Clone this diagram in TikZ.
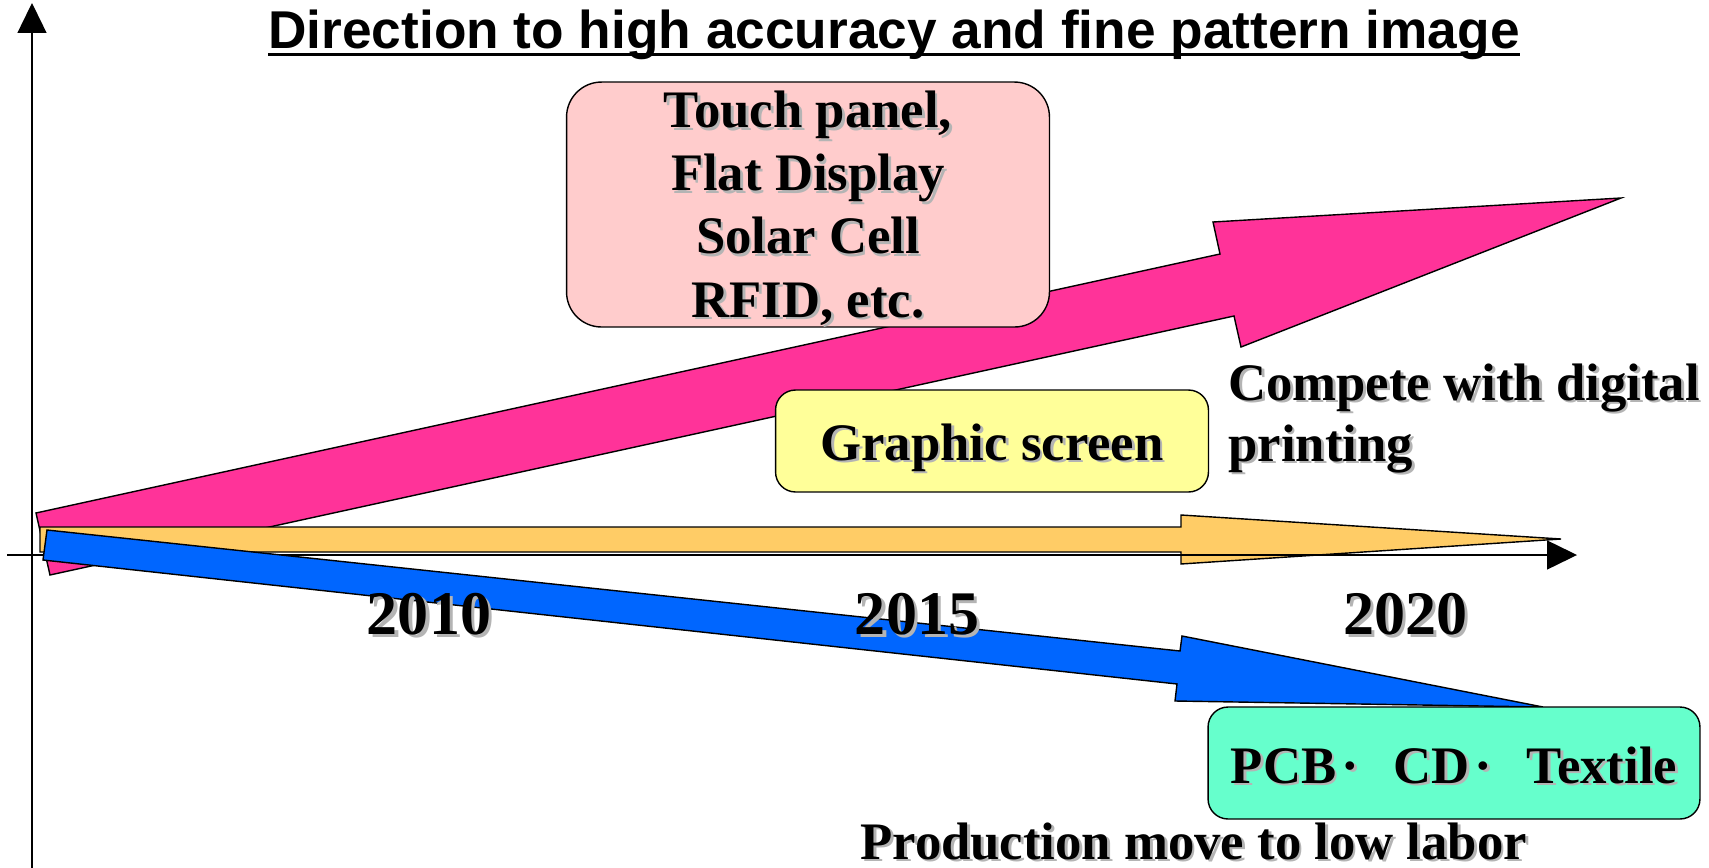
\documentclass[tikz,border=0pt]{standalone}
\usepackage{fontspec}
\setmainfont{Liberation Serif}
\newfontfamily\titlefont{Liberation Sans}
\usepackage{tikz}
\usetikzlibrary{arrows.meta}

\definecolor{pinkarrow}{HTML}{FF3399}
\definecolor{orangearrow}{HTML}{FFCC66}
\definecolor{bluearrow}{HTML}{0066FF}
\definecolor{pinkbox}{HTML}{FFCCCC}
\definecolor{yellowbox}{HTML}{FFFF99}
\definecolor{greenbox}{HTML}{66FFCC}
\definecolor{shadowgray}{HTML}{B4B4B4}

% text with a grey drop shadow
\newcommand{\shd}[1]{\rlap{\kern0.05em\raisebox{-0.05em}{\textcolor{shadowgray}{#1}}}#1}

\begin{document}
\begin{tikzpicture}[x=0.02cm,y=-0.02cm,
    bigarrow/.style={draw=black,line width=0.8pt,line join=miter},
    axisline/.style={draw=black,line width=0.8pt,-{Triangle[length=0.6cm,width=0.58cm]}},
    tagbox/.style={draw=black,line width=0.8pt,inner sep=0pt,anchor=base,align=center,
                   font=\fontsize{30}{35.9}\selectfont\bfseries},
    label/.style={inner sep=0pt,anchor=base west,align=left,
                  font=\fontsize{30}{34.7}\selectfont\bfseries},
    year/.style={inner sep=0pt,anchor=base,font=\fontsize{35.3}{40}\selectfont\bfseries}]

\useasboundingbox (0,0) rectangle (1709,868);

\filldraw[bigarrow,fill=pinkarrow] (36,513) -- (1220,254) -- (1213,222) -- (1621,198)
    -- (1241,347) -- (1234,316) -- (50,575) -- cycle;
\filldraw[bigarrow,fill=orangearrow] (40,527) -- (1181,527) -- (1181,515) -- (1561,539)
    -- (1181,564) -- (1181,552) -- (40,552) -- cycle;

\coordinate (ybot) at (32,868);
\coordinate (ytop) at (32,3);
\coordinate (xleft) at (7,555);
\coordinate (xright) at (1577,555);
\draw[axisline] (ybot) -- (ytop);
\draw[axisline] (xleft) -- (xright);

\filldraw[bigarrow,fill=bluearrow] (47,530) -- (1180,651) -- (1182,636) -- (1543,707)
    -- (1175,701) -- (1177,684) -- (43,560) -- cycle;

\node (title) [inner sep=0pt,anchor=base,font=\titlefont\fontsize{30.3}{36}\selectfont\bfseries]
    at (894,49) {Direction to high accuracy and fine pattern image};
\draw[line width=1.9pt] ([yshift=-0.11cm]title.base west) -- ([yshift=-0.11cm]title.base east);

\begin{scope}[every node/.style={tagbox}]
    \node (display) [fill=pinkbox,rounded corners=0.7cm,minimum width=9.66cm,
        text height=4.7cm,text depth=0.2cm] at (808,317)
        {\shd{Touch panel,}\\\shd{Flat Display}\\\shd{Solar Cell}\\\shd{RFID, etc.}};
    \node (screen) [fill=yellowbox,rounded corners=0.4cm,minimum width=8.66cm,
        text height=1.4cm,text depth=0.64cm] at (992,460) {\shd{Graphic screen}};
    \node (pcb) [fill=greenbox,rounded corners=0.4cm,minimum width=9.84cm,
        text height=1.52cm,text depth=0.72cm] at (1454,783)
        {\shd{PCB\kern0.1em·\kern0.65em CD\kern0.1em·\kern0.65em Textile}};
\end{scope}

\node (compete) [label] at (1228,461) {\shd{Compete with digital}\\\shd{printing}};
\node (labor) [label] at (860,859) {\shd{Production move to low labor}};

\node (y2010) [year] at (429,634) {\shd{2010}};
\node (y2015) [year] at (917,634) {\shd{2015}};
\node (y2020) [year] at (1405,634) {\shd{2020}};
\end{tikzpicture}
\end{document}
